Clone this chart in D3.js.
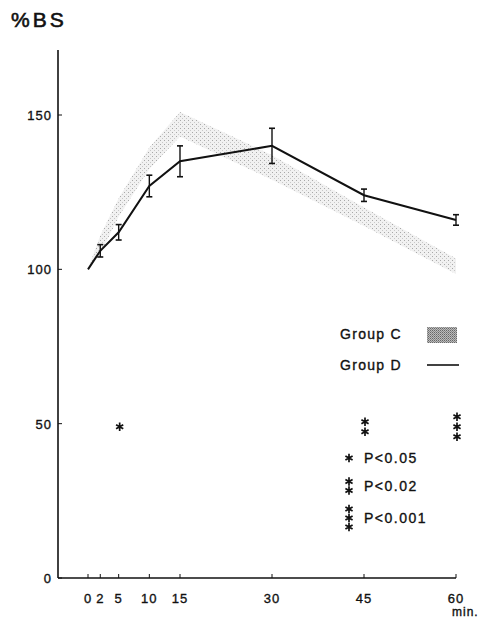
<!DOCTYPE html>
<html>
<head>
<meta charset="utf-8">
<script src="https://cdn.jsdelivr.net/npm/d3@7"></script>
<style>
  body { margin: 0; background: #fff; }
  text { font-family: "Liberation Sans", Arial, sans-serif; fill: #111; stroke: #111; stroke-width: 0.35; }
</style>
</head>
<body>
<div id="chart"></div>
<script>
// Time points (min) and values
const minutes = [0, 2, 5, 10, 15, 30, 45, 60];
const groupD = [100, 106, 112, 127, 135, 140, 124, 116];
const groupDErr = [0, 2, 2.5, 3.5, 5, 5.7, 2, 1.7];
const groupC = [100, 108, 120, 136, 147, 133, 117, 101];
const groupCErr = [0, 3, 3, 3.5, 4, 4, 3, 2.5];

const yTicks = [0, 50, 100, 150];
const sigMinutes = [5, 45, 60];
const sigStars = [1, 2, 3];
const pLabels = ["P<0.05", "P<0.02", "P<0.001"];

const width = 493, height = 619;

const svg = d3.select("#chart")
    .append("svg")
    .attr("width", width)
    .attr("height", height);

// Scales
const x = d3.scaleLinear().domain([0, 60]).range([88, 456]);
const y = d3.scaleLinear().domain([0, 150]).range([578, 115]);
const axisX = 58;

// Stipple pattern for group C
const defs = svg.append("defs");
const pat = defs.append("pattern")
    .attr("id", "stipple")
    .attr("width", 4).attr("height", 4)
    .attr("patternUnits", "userSpaceOnUse");
pat.append("rect").attr("width", 4).attr("height", 4).attr("fill", "#f1f1f1");
pat.append("rect").attr("x", 0).attr("y", 0).attr("width", 1).attr("height", 1).attr("fill", "#a8a8a8");
pat.append("rect").attr("x", 2).attr("y", 2).attr("width", 1).attr("height", 1).attr("fill", "#c8c8c8");

const patDark = defs.append("pattern")
    .attr("id", "stippleDark")
    .attr("width", 2).attr("height", 2)
    .attr("patternUnits", "userSpaceOnUse");
patDark.append("rect").attr("width", 2).attr("height", 2).attr("fill", "#bbb");
patDark.append("rect").attr("width", 1).attr("height", 1).attr("fill", "#666");
patDark.append("rect").attr("x", 1).attr("y", 1).attr("width", 1).attr("height", 1).attr("fill", "#888");

// Title
svg.append("text")
    .attr("x", 11)
    .attr("y", 27)
    .attr("font-size", 21)
    .attr("letter-spacing", 3)
    .style("stroke-width", 0.6)
    .text("%BS");

// Group C band
const cData = minutes.map((m, i) => ({m, v: groupC[i], e: groupCErr[i]}));
svg.append("path")
    .datum(cData)
    .attr("fill", "url(#stipple)")
    .attr("d", d3.area()
        .x(d => x(d.m))
        .y0(d => y(d.v - d.e))
        .y1(d => y(d.v + d.e)));

// Y axis
svg.append("line")
    .attr("x1", axisX).attr("x2", axisX)
    .attr("y1", 50).attr("y2", y(0))
    .attr("stroke", "#111").attr("stroke-width", 1.6);

svg.selectAll(".ytick")
    .data(yTicks)
    .enter().append("line")
    .attr("x1", axisX).attr("x2", axisX + 4)
    .attr("y1", d => y(d)).attr("y2", d => y(d))
    .attr("stroke", "#111");

svg.selectAll(".ylab")
    .data(yTicks)
    .enter().append("text")
    .attr("x", 52)
    .attr("y", d => y(d) + 5)
    .attr("text-anchor", "end")
    .attr("font-size", 13)
    .attr("letter-spacing", 1)
    .text(d => d);

// X axis
svg.append("line")
    .attr("x1", axisX).attr("x2", x(60))
    .attr("y1", y(0)).attr("y2", y(0))
    .attr("stroke", "#111").attr("stroke-width", 1.6);

svg.selectAll(".xtick")
    .data(minutes)
    .enter().append("line")
    .attr("x1", d => x(d)).attr("x2", d => x(d))
    .attr("y1", y(0)).attr("y2", y(0) - 4)
    .attr("stroke", "#111");

svg.selectAll(".xlab")
    .data(minutes)
    .enter().append("text")
    .attr("x", d => x(d))
    .attr("y", 603)
    .attr("text-anchor", "middle")
    .attr("font-size", 13)
    .attr("letter-spacing", 1)
    .text(d => d);

svg.append("text")
    .attr("x", 452)
    .attr("y", 616)
    .attr("font-size", 12)
    .attr("letter-spacing", 1)
    .text("min.");

// Group D line with error bars
const dData = minutes.map((m, i) => ({m, v: groupD[i], e: groupDErr[i]}));
svg.append("path")
    .datum(dData)
    .attr("fill", "none")
    .attr("stroke", "#111")
    .attr("stroke-width", 2)
    .attr("d", d3.line().x(d => x(d.m)).y(d => y(d.v)));

const bars = svg.selectAll(".err")
    .data(dData.filter(d => d.e > 0))
    .enter().append("g");
bars.append("line")
    .attr("x1", d => x(d.m)).attr("x2", d => x(d.m))
    .attr("y1", d => y(d.v - d.e)).attr("y2", d => y(d.v + d.e))
    .attr("stroke", "#111").attr("stroke-width", 1.4);
[-1, 1].forEach(s => {
    bars.append("line")
        .attr("x1", d => x(d.m) - 3).attr("x2", d => x(d.m) + 3)
        .attr("y1", d => y(d.v + s * d.e)).attr("y2", d => y(d.v + s * d.e))
        .attr("stroke", "#111").attr("stroke-width", 1.6);
});

// Asterisks
const star = d3.symbol().type(d3.symbolAsterisk).size(48);
function drawStars(cx, cy, n, gap) {
    const top = cy - (n - 1) * gap / 2;
    for (let k = 0; k < n; k++) {
        svg.append("path")
            .attr("d", star())
            .attr("transform", `translate(${cx},${top + k * gap})`)
            .attr("fill", "none")
            .attr("stroke", "#111")
            .attr("stroke-width", 1.7);
    }
}
sigMinutes.forEach((m, i) => drawStars(x(m) + 1, y(49), sigStars[i], 10));

// Group legend
svg.append("text").attr("x", 340).attr("y", 339)
    .attr("font-size", 14).attr("letter-spacing", 1.3).text("Group C");
svg.append("rect").attr("x", 427).attr("y", 327).attr("width", 30).attr("height", 16)
    .attr("fill", "url(#stippleDark)");
svg.append("text").attr("x", 340).attr("y", 370)
    .attr("font-size", 14).attr("letter-spacing", 1.3).text("Group D");
svg.append("line").attr("x1", 427).attr("x2", 459).attr("y1", 365).attr("y2", 365)
    .attr("stroke", "#111").attr("stroke-width", 1.6);

// P-value legend
const pY = [458, 486, 518];
pLabels.forEach((t, i) => {
    drawStars(349, pY[i], sigStars[i], 9);
    svg.append("text")
        .attr("x", 364)
        .attr("y", pY[i] + 5)
        .attr("font-size", 14)
        .attr("letter-spacing", 1.5)
        .text(t);
});
</script>
</body>
</html>
